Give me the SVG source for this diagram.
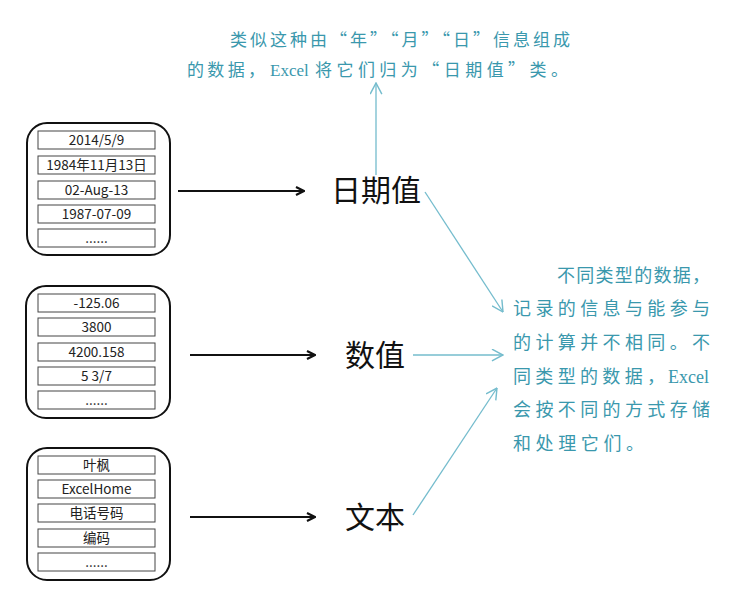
<svg xmlns="http://www.w3.org/2000/svg" width="749" height="593" viewBox="0 0 749 593">
<style>
.box{fill:#fff;stroke:#111;stroke-width:2}
.cell{fill:#fff;stroke:#444;stroke-width:1}
.ct{font-family:"Noto Sans CJK SC","Noto Sans",sans-serif;font-size:13.5px;fill:#222;text-anchor:middle}
.lbl{font-family:"Noto Sans CJK SC",sans-serif;font-size:30px;fill:#111;text-anchor:middle}
.blk{stroke:#111;stroke-width:2;fill:none}
.blu{stroke:#74bccd;stroke-width:1.3;fill:none}
.note{font-family:"Noto Sans CJK SC",sans-serif;font-size:17px;fill:#3a98ad}
.lat{font-family:"Liberation Serif",serif;font-size:17px;fill:#3a98ad}
.r{font-size:18px}
</style>
<defs>
<marker id="ab" viewBox="0 0 10 10" refX="9" refY="5" markerWidth="5" markerHeight="5" orient="auto" markerUnits="strokeWidth">
<path d="M1,1 L9,5 L1,9" fill="none" stroke="#111" stroke-width="2.2"/>
</marker>
<marker id="au" viewBox="0 0 10 10" refX="9.5" refY="5" markerWidth="10" markerHeight="10" orient="auto" markerUnits="strokeWidth">
<path d="M1,0.5 L9.5,5 L1,9.5" fill="none" stroke="#74bccd" stroke-width="1.1"/>
</marker>
</defs>
<rect width="749" height="593" fill="#fff"/>

<g id="date-box">
<rect class="box" x="27" y="123" width="143" height="132" rx="20"/>
<rect class="cell" x="38" y="131" width="117" height="18"/><text class="ct" x="96.5" y="145">2014/5/9</text>
<rect class="cell" x="38" y="156" width="117" height="18"/><text class="ct" x="96.5" y="170">1984年11月13日</text>
<rect class="cell" x="38" y="181" width="117" height="18"/><text class="ct" x="96.5" y="195">02-Aug-13</text>
<rect class="cell" x="38" y="205" width="117" height="18"/><text class="ct" x="96.5" y="219">1987-07-09</text>
<rect class="cell" x="38" y="229" width="117" height="18"/><text class="ct" x="96.5" y="243">......</text>
</g>

<g id="number-box">
<rect class="box" x="26" y="286" width="144" height="132" rx="20"/>
<rect class="cell" x="38" y="294" width="117" height="18"/><text class="ct" x="96.5" y="308">-125.06</text>
<rect class="cell" x="38" y="318" width="117" height="18"/><text class="ct" x="96.5" y="332">3800</text>
<rect class="cell" x="38" y="343" width="117" height="18"/><text class="ct" x="96.5" y="357">4200.158</text>
<rect class="cell" x="38" y="367" width="117" height="18"/><text class="ct" x="96.5" y="381">5 3/7</text>
<rect class="cell" x="38" y="391" width="117" height="18"/><text class="ct" x="96.5" y="405">......</text>
</g>

<g id="text-box">
<rect class="box" x="27" y="448" width="143" height="132" rx="20"/>
<rect class="cell" x="38" y="456" width="117" height="18"/><text class="ct" x="96.5" y="470">叶枫</text>
<rect class="cell" x="38" y="480" width="117" height="18"/><text class="ct" x="96.5" y="494">ExcelHome</text>
<rect class="cell" x="38" y="504" width="117" height="18"/><text class="ct" x="96.5" y="518">电话号码</text>
<rect class="cell" x="38" y="529" width="117" height="18"/><text class="ct" x="96.5" y="543">编码</text>
<rect class="cell" x="38" y="553" width="117" height="18"/><text class="ct" x="96.5" y="567">......</text>
</g>

<g id="label-date"><text class="lbl" x="376" y="201">日期值</text></g>
<g id="label-number"><text class="lbl" x="375" y="366">数值</text></g>
<g id="label-text"><text class="lbl" x="375" y="528">文本</text></g>

<g id="note-top">
<text class="note" x="230" y="46" textLength="340" lengthAdjust="spacing">类似这种由“年”“月”“日”信息组成</text>
<text class="note" x="187" y="76" textLength="78" lengthAdjust="spacing">的数据，</text>
<text class="lat" x="270" y="76">Excel</text>
<text class="note" x="315" y="76" textLength="253" lengthAdjust="spacing">将它们归为“日期值”类。</text>
</g>

<g id="note-right">
<text class="note r" x="557" y="282" textLength="153" lengthAdjust="spacing">不同类型的数据，</text>
<text class="note r" x="513" y="315" textLength="197" lengthAdjust="spacing">记录的信息与能参与</text>
<text class="note r" x="513" y="349" textLength="197" lengthAdjust="spacing">的计算并不相同。不</text>
<text class="note r" x="513" y="383" textLength="152" lengthAdjust="spacing">同类型的数据，</text>
<text class="lat r" x="668" y="383">Excel</text>
<text class="note r" x="513" y="416" textLength="197" lengthAdjust="spacing">会按不同的方式存储</text>
<text class="note r" x="513" y="450" textLength="131" lengthAdjust="spacing">和处理它们。</text>
</g>

<g id="connectors">
<line class="blk" x1="178" y1="191" x2="304" y2="191" marker-end="url(#ab)"/>
<line class="blk" x1="190" y1="355" x2="315" y2="355" marker-end="url(#ab)"/>
<line class="blk" x1="190" y1="517" x2="315" y2="517" marker-end="url(#ab)"/>
<line class="blu" x1="376" y1="175" x2="376" y2="83" marker-end="url(#au)"/>
<line class="blu" x1="425" y1="192" x2="503" y2="312" marker-end="url(#au)"/>
<line class="blu" x1="413" y1="355" x2="503" y2="355" marker-end="url(#au)"/>
<line class="blu" x1="413" y1="515" x2="497" y2="388" marker-end="url(#au)"/>
</g>
</svg>
